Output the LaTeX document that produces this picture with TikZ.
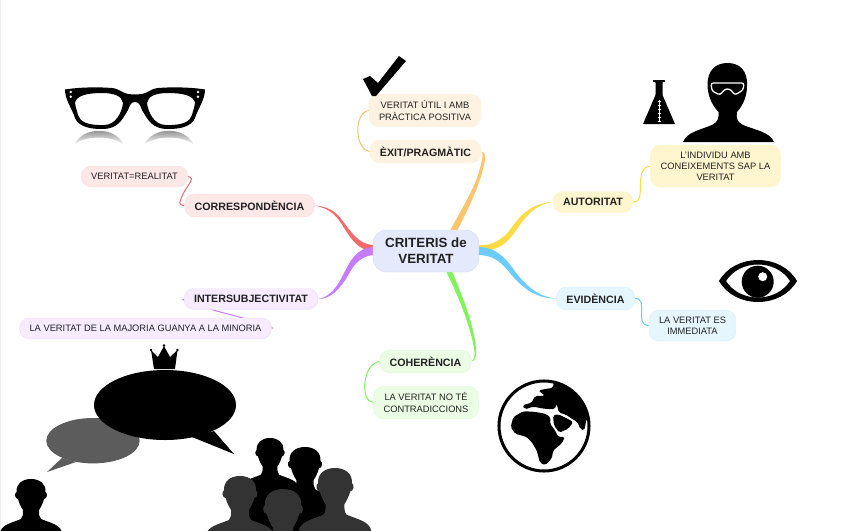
\documentclass[tikz,border=0pt]{standalone}
\usepackage{fontspec}
\setmainfont{Liberation Sans}
\usetikzlibrary{calc,backgrounds}
\definecolor{redln}{HTML}{F26A6A}
\definecolor{orgln}{HTML}{FBC46F}
\definecolor{ylwln}{HTML}{FFDB45}
\definecolor{bluln}{HTML}{6CCBFF}
\definecolor{grnln}{HTML}{80F25C}
\definecolor{purln}{HTML}{C67CFF}
\definecolor{txt}{HTML}{222222}
\begin{document}
\begin{tikzpicture}[
  x=0.03cm, y=-0.03cm,
  blk/.style={draw, rounded corners=0.3cm, align=center, inner xsep=0.3cm, inner ysep=0.2cm,
              minimum height=0.63cm, line width=0.4pt, text=txt},
  root/.style={blk, fill=rootfill, draw=rootline, font=\bfseries\fontsize{11.4}{13.4}\selectfont,
               rounded corners=0.4cm, minimum height=1.26cm, inner xsep=0.36cm},
  cat/.style={blk, font=\bfseries\fontsize{9.1}{11}\selectfont},
  leaf/.style={blk, font=\fontsize{7.95}{9.4}\selectfont},
  redbox/.style={fill=redln!16!white, draw=redln!20!white},
  orgbox/.style={fill=orgln!20!white, draw=orgln!23!white},
  ylwbox/.style={fill=ylwln!26!white, draw=ylwln!30!white},
  blubox/.style={fill=bluln!18!white, draw=bluln!25!white},
  grnbox/.style={fill=grnln!16!white, draw=grnln!25!white},
  purbox/.style={fill=purln!15!white, draw=purln!25!white},
  lnk/.style={line width=0.85pt},
  person/.pic={
    \fill[pic actions] (-31,110) -- (-31,54) .. controls (-30,46) and (-20,44) .. (-10,40)
      .. controls (-8,38) and (-8,35) .. (-8,31) .. controls (-10,28) and (-12,24) .. (-13,20)
      .. controls (-16,20) and (-17,14) .. (-14.5,13) .. controls (-15,5) and (-9,0) .. (0,0)
      .. controls (9,0) and (15,5) .. (14.5,13) .. controls (17,14) and (16,20) .. (13,20)
      .. controls (12,24) and (10,28) .. (8,31) .. controls (8,35) and (8,38) .. (10,40)
      .. controls (20,44) and (30,46) .. (31,54) -- (31,110) -- cycle;
  },
]
\definecolor{rootfill}{HTML}{E4E9FC}
\definecolor{rootline}{HTML}{D8DEF8}
\clip (0,0) rectangle (848,530);

%% ---------- nodes ----------
\node[root] (crit) at (426,251) {CRITERIS de\\VERITAT};
\node[cat, redbox] (corr) at (249.5,205.5) {CORRESPONDÈNCIA};
\node[leaf, redbox] (real) at (134.5,176.5) {VERITAT=REALITAT};
\node[cat, orgbox] (exit) at (425.5,151.5) {ÈXIT/PRAGMÀTIC};
\node[leaf, orgbox] (util) at (425,110.5) {VERITAT ÚTIL I AMB\\PRÀCTICA POSITIVA};
\node[cat, ylwbox] (auto) at (593,202) {AUTORITAT};
\node[leaf, ylwbox] (indi) at (715.5,166) {L'INDIVIDU AMB\\CONEIXEMENTS SAP LA\\VERITAT};
\node[cat, blubox] (evid) at (595.5,298.5) {EVIDÈNCIA};
\node[leaf, blubox] (imme) at (692.5,325.5) {LA VERITAT ES\\IMMEDIATA};
\node[cat, grnbox] (cohe) at (425.5,361.5) {COHERÈNCIA};
\node[leaf, grnbox] (contr) at (426,402.5) {LA VERITAT NO TÉ\\CONTRADICCIONS};
\node[cat, purbox] (inter) at (251,299) {INTERSUBJECTIVITAT};
\node[leaf, purbox] (major) at (145.5,328.5) {LA VERITAT DE LA MAJORIA GUANYA A LA MINORIA};

%% ---------- branches ----------
\begin{scope}[on background layer]
\fill[white] (0,0) rectangle (848,530);
\fill[black!6] (0,0) rectangle (1,530);
\fill[orgln] ($(crit.north)+(24,1)$) .. controls (461,210) and (472,193) .. (478,175)
  .. controls (482,162) and (484,154) .. (exit.east) .. controls (485,153) and (485.5,156) .. (485,160)
  .. controls (481,183) and (468,210) .. ($(crit.north)+(31,1)$) -- cycle;
\fill[redln] ($(crit.west)+(1,-6)$) .. controls (358,245) and (350,230) .. (342,220)
  .. controls (335,210) and (325,206) .. (corr.east) .. controls (325,207.5) and (334,212) .. (341,223)
  .. controls (349,235) and (356,251) .. ($(crit.west)+(1,0)$) -- cycle;
\fill[purln] ($(crit.west)+(1,-4)$) .. controls (355,248) and (350,262) .. (343,275)
  .. controls (337,287) and (330,297) .. (inter.east) .. controls (331,299) and (339,289) .. (346,279)
  .. controls (352,268) and (358,256) .. ($(crit.west)+(1,4)$) -- cycle;
\fill[ylwln] ($(crit.east)+(-1,-6)$) .. controls (492,246) and (503,240) .. (512,227)
  .. controls (522,213) and (533,203) .. (auto.west) .. controls (535,204.5) and (526,216) .. (517,229)
  .. controls (507,244) and (497,252) .. ($(crit.east)+(-1,0)$) -- cycle;
\fill[bluln] ($(crit.east)+(-1,-4)$) .. controls (495,247) and (505,257) .. (514,270)
  .. controls (525,285) and (538,297) .. (evid.west) .. controls (537,299) and (522,288) .. (510,273)
  .. controls (501,262) and (493,255) .. ($(crit.east)+(-1,4)$) -- cycle;
\fill[grnln] ($(crit.south)+(20,-1)$) .. controls (458,295) and (470,325) .. (474,348)
  .. controls (475,355) and (475,359) .. (cohe.east) .. controls (476,361) and (476.5,355) .. (476,347)
  .. controls (473,322) and (462,295) .. ($(crit.south)+(26,-1)$) -- cycle;

\draw[lnk, redln] (corr.west) .. controls (178,205) and (179,203) .. (183,194) .. controls (188,184) and (196,178) .. (real.east);
\draw[lnk, orgln] (exit.west) .. controls (354,149) and (354,112) .. (util.west);
\draw[lnk, ylwln] (auto.east) .. controls (648,203) and (632,168) .. (indi.west);
\draw[lnk, bluln] (evid.east) .. controls (650,298) and (633,325) .. (imme.west);
\draw[lnk, grnln] (cohe.west) .. controls (362,364) and (360,402) .. (contr.west);
\draw[lnk, purln] (inter.west) .. controls (178,299) and (200,307) .. (228,314) .. controls (255,321) and (277,328) .. (major.east);
\end{scope}

%% ---------- glasses ----------
\fill[even odd rule] (65,89.5) .. controls (80,87) and (100,87) .. (112,88) .. controls (120,89) and (122,93) .. (128,94)
    .. controls (132,94.5) and (138,94.5) .. (142,94) .. controls (148,93) and (150,89) .. (158,88)
    .. controls (170,87) and (190,87) .. (205,89.5) .. controls (205,98) and (200,106) .. (196,115)
    .. controls (194,124) and (186,129) .. (168,129) .. controls (152,129) and (148,120) .. (142,110)
    .. controls (140,105) and (139,102) .. (135,102) .. controls (131,102) and (130,105) .. (128,110)
    .. controls (122,120) and (118,129) .. (102,129) .. controls (84,129) and (76,124) .. (74,115)
    .. controls (70,106) and (65,98) .. (65,89.5) -- cycle
  (75,103) .. controls (76,96) and (86,93) .. (102,93) .. controls (114,93) and (122,96) .. (123,103)
    .. controls (122,112) and (116,125) .. (104,125) .. controls (88,125.5) and (80,122) .. (78,115)
    .. controls (77,110) and (75,107) .. (75,103) -- cycle
  (195,103) .. controls (194,96) and (184,93) .. (168,93) .. controls (156,93) and (148,96) .. (147,103)
    .. controls (148,112) and (154,125) .. (166,125) .. controls (182,125.5) and (190,122) .. (192,115)
    .. controls (193,110) and (195,107) .. (195,103) -- cycle;
\foreach \gx in {70.7,198}{\foreach \gy in {92,96.7}{\fill[white] (\gx,\gy) circle (1.4);}}
\foreach \gx in {99,169}{
  \shade[top color=black!55, bottom color=white]
    (\gx-25,145) .. controls (\gx-16,126) and (\gx+16,126) .. (\gx+25,145)
    .. controls (\gx+14,135) and (\gx-14,135) .. (\gx-25,145) -- cycle;
}

%% ---------- check ----------
\fill (363,79) -- (370,76) -- (378,83) -- (399,56) -- (406,61) -- (376,96) -- (372,96) -- cycle;

%% ---------- flask and scientist ----------
\fill[rounded corners=0.5pt] (653,80) -- (665,80) -- (665,82) -- (662.5,82) -- (662.5,95) -- (675,124) -- (643,124) -- (655.5,95) -- (655.5,82) -- (653,82) -- cycle;
\draw[white, line width=0.3pt] (659,100) -- (659,122);
\foreach \ty in {101,105,...,122}{\draw[white, line width=0.3pt] (657.5,\ty) -- (660.5,\ty);}
\fill (683,142) .. controls (687,132) and (700,130) .. (712,125) .. controls (718,122) and (719,118) .. (718.5,112)
  .. controls (711,104) and (708,95) .. (707.5,86) .. controls (707,70) and (716,63) .. (727.5,63)
  .. controls (739,63) and (748,70) .. (747,86) .. controls (747,95) and (744,104) .. (737,112)
  .. controls (736,118) and (737,122) .. (743,125) .. controls (755,130) and (770,132) .. (774,142) -- cycle;
\draw[white, line width=1.1pt, rounded corners=2pt] (711,83) -- (744,83) -- (743,90) -- (735,95) -- (730,89) -- (725,89) -- (720,95) -- (712,91) -- cycle;

%% ---------- eye ----------
\fill[even odd rule] (719,281) .. controls (735,253) and (781,253) .. (797,281) .. controls (781,309) and (735,309) .. (719,281) -- cycle
  (726,281) .. controls (740,259) and (776,259) .. (790,281) .. controls (776,303) and (740,303) .. (726,281) -- cycle;
\fill (757.7,281.7) circle (16);
\fill[white] (762.7,276.7) circle (4.5);

%% ---------- globe ----------
\draw[line width=2.6pt] (544,426) circle (45);
\begin{scope}[shift={(490,372)}, x=0.01cm, y=-0.01cm]
\clip (165,162) circle (131);
\fill[rounded corners=1.5pt] (62,165) -- (70,135) -- (100,118) -- (130,119) -- (165,125) -- (182,136) -- (180,155) -- (195,175) -- (205,195)
  -- (225,195) -- (215,215) -- (190,235) -- (185,260) -- (165,280) -- (150,272) -- (140,235) -- (125,210) -- (110,195)
  -- (75,185) -- cycle;
\fill[rounded corners=1.5pt] (97,100) -- (125,92) -- (135,72) -- (165,72) -- (145,55) -- (190,47) -- (190,20) -- (310,20) -- (310,150) -- (290,140) -- (283,175)
  -- (272,172) -- (262,150) -- (245,140) -- (228,128) -- (207,122) -- (200,95) -- (194,112) -- (160,110) -- (130,104)
  -- (105,112) -- cycle;
\fill[rounded corners=1.5pt] (189,130) -- (205,127) -- (232,140) -- (250,150) -- (235,170) -- (208,182) -- (192,160) -- cycle;
\end{scope}

%% ---------- speech bubbles ----------
\fill[black!64] (93,440.7) ellipse (46.7 and 22.7);
\fill[black!64] (62,458) -- (47,472) -- (76,462) -- cycle;
\fill (165,405) ellipse (71 and 35);
\fill (192,437) -- (234,454) -- (214,431) -- cycle;
\fill (154,369) -- (151,350) -- (158,357) -- (164,346) -- (170,357) -- (177.5,350) -- (175,369) -- cycle;
\foreach \cx/\cy in {151/350,164/345.5,177.5/350}{\fill (\cx,\cy) circle (1.3);}

%% ---------- people ----------
\pic[fill=black] at (31,479) {person};
\pic[fill=black, scale=0.92] at (270,438) {person};
\pic[fill=black, scale=1.07] at (305,447) {person};
\pic[fill=black!80, scale=1.1] at (240,476) {person};
\pic[fill=black!80, scale=1.17] at (335,468) {person};
\pic[fill=black!80, scale=1.25] at (283,489) {person};
\end{tikzpicture}
\end{document}
